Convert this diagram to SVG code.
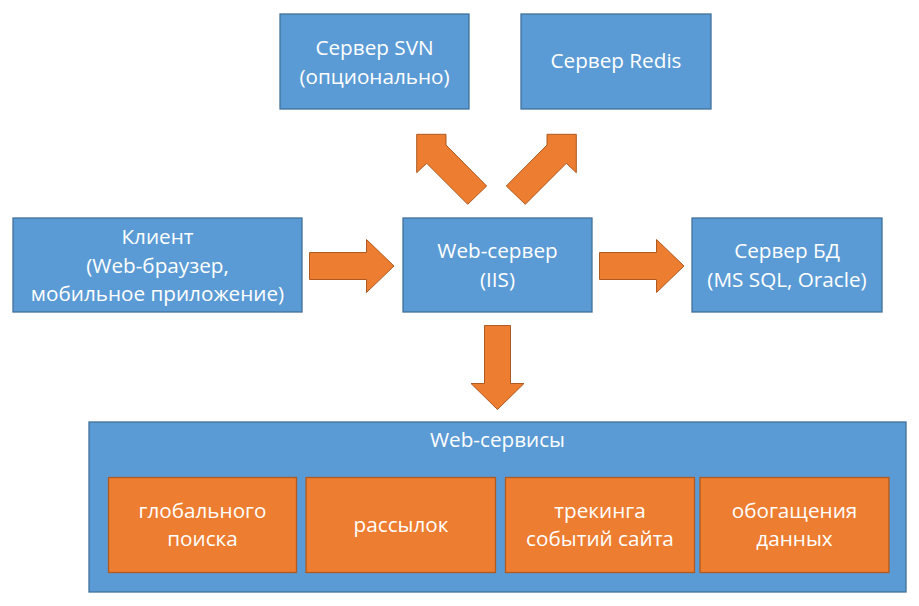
<svg xmlns="http://www.w3.org/2000/svg" width="919" height="606" viewBox="0 0 919 606">
<style>
.b{fill:#5B9BD5;stroke:#41719C;stroke-width:1.3}
.o{fill:#ED7D31;stroke:#AE5A21;stroke-width:1.3}
.a{fill:#ED7D31;stroke:#AE5A21;stroke-width:1}
text{font-family:"Open Sans","Liberation Sans",sans-serif;font-size:20.7px;fill:#fff;text-anchor:middle}
</style>
<rect width="919" height="606" fill="#fff"/>
<g id="svn"><rect class="b" x="280" y="14" width="189" height="95"/><text x="374.5" y="55">Сервер SVN</text><text x="374.5" y="84">(опционально)</text></g>
<g id="redis"><rect class="b" x="521" y="14" width="190" height="95"/><text x="616" y="68">Сервер Redis</text></g>
<g id="client"><rect class="b" x="13" y="218" width="289" height="94"/><text x="157.5" y="244">Клиент</text><text x="157.5" y="273">(Web-браузер,</text><text x="157.5" y="301">мобильное приложение)</text></g>
<g id="webserver"><rect class="b" x="403" y="218" width="189" height="94"/><text x="497.5" y="258">Web-сервер</text><text x="497.5" y="287">(IIS)</text></g>
<g id="db"><rect class="b" x="692" y="218" width="190" height="94"/><text x="787" y="258">Сервер БД</text><text x="787" y="287">(MS SQL, Oracle)</text></g>
<g id="webservices"><rect class="b" x="89" y="422" width="817" height="170"/><text x="497.5" y="447">Web-сервисы</text>
<g id="search"><rect class="o" x="108.5" y="477.5" width="188" height="95"/><text x="202.5" y="518">глобального</text><text x="202.5" y="546">поиска</text></g>
<g id="mail"><rect class="o" x="306" y="477.5" width="189.5" height="95"/><text x="401" y="532">рассылок</text></g>
<g id="tracking"><rect class="o" x="505.5" y="477.5" width="189" height="95"/><text x="600" y="518">трекинга</text><text x="600" y="546">событий сайта</text></g>
<g id="enrich"><rect class="o" x="700" y="477.5" width="189" height="95"/><text x="794.5" y="518">обогащения</text><text x="794.5" y="546">данных</text></g>
</g>
<g id="connectors">
<polygon class="a" points="309.5,252.5 366.5,252.5 366.5,239.5 394,266 366.5,292.5 366.5,279.5 309.5,279.5"/>
<polygon class="a" points="599.5,252.5 656.5,252.5 656.5,239.5 684,266 656.5,292.5 656.5,279.5 599.5,279.5"/>
<polygon class="a" points="484.5,325.5 510.5,325.5 510.5,383.5 524,383.5 497.5,409.5 471,383.5 484.5,383.5"/>
<polygon class="a" points="416.7,134.3 446,134.3 446,145 486.7,186 467.7,204.3 426.7,163.3 416.7,172.7"/>
<polygon class="a" points="576.3,134.3 547,134.3 547,145 506.3,186 525.3,204.3 566.3,163.3 576.3,172.7"/>
</g>
</svg>
